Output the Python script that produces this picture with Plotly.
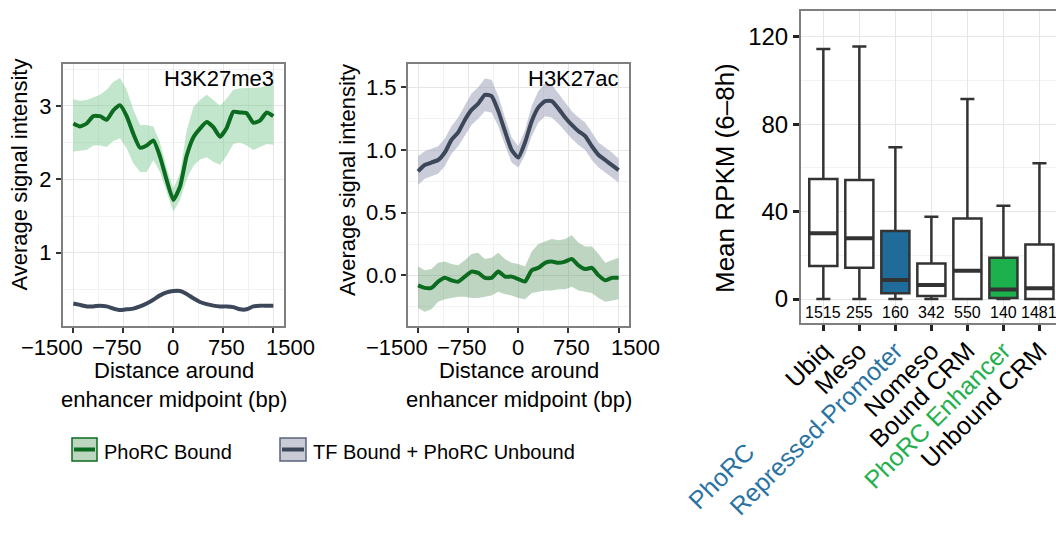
import plotly.graph_objects as go

W, H = 1056, 533
FONT = "Liberation Sans, Arial, Helvetica, sans-serif"

# ---------------- data ----------------
bp = [-1500, -1400, -1300, -1200, -1100, -1000, -900, -800, -700, -600, -500, -400, -300, -200, -100,
      0, 100, 200, 300, 400, 500, 600, 700, 800, 900, 1000, 1100, 1200, 1300, 1400, 1500]

# H3K27me3
me3_phorc = [2.76, 2.72, 2.76, 2.86, 2.86, 2.81, 2.94, 3.01, 2.86, 2.62, 2.43, 2.46, 2.53, 2.31, 1.99,
             1.72, 1.90, 2.32, 2.57, 2.69, 2.78, 2.71, 2.58, 2.70, 2.92, 2.91, 2.90, 2.77, 2.80, 2.91, 2.86]
me3_phorc_hi = [3.09, 3.07, 3.08, 3.12, 3.15, 3.22, 3.33, 3.38, 3.22, 2.95, 2.74, 2.74, 2.72, 2.50, 2.15,
                1.88, 2.08, 2.66, 2.98, 3.08, 3.15, 3.08, 3.00, 3.10, 3.22, 3.24, 3.24, 3.24, 3.25, 3.27, 3.28]
me3_phorc_lo = [2.38, 2.39, 2.40, 2.46, 2.46, 2.44, 2.52, 2.56, 2.42, 2.22, 2.10, 2.10, 2.26, 2.10, 1.82,
                1.56, 1.72, 2.00, 2.18, 2.27, 2.30, 2.24, 2.20, 2.32, 2.48, 2.50, 2.46, 2.40, 2.44, 2.48, 2.47]
me3_tf = [0.31, 0.29, 0.27, 0.27, 0.28, 0.27, 0.24, 0.22, 0.23, 0.24, 0.27, 0.31, 0.36, 0.42, 0.46,
          0.48, 0.48, 0.44, 0.38, 0.33, 0.30, 0.28, 0.27, 0.27, 0.26, 0.23, 0.23, 0.27, 0.28, 0.28, 0.28]
me3_tf_hi = [0.33, 0.31, 0.29, 0.29, 0.30, 0.29, 0.26, 0.24, 0.25, 0.26, 0.29, 0.33, 0.38, 0.44, 0.48,
             0.50, 0.50, 0.46, 0.40, 0.35, 0.32, 0.30, 0.29, 0.29, 0.28, 0.25, 0.25, 0.29, 0.30, 0.30, 0.30]
me3_tf_lo = [0.29, 0.27, 0.25, 0.25, 0.26, 0.25, 0.22, 0.20, 0.21, 0.22, 0.25, 0.29, 0.34, 0.40, 0.44,
             0.46, 0.46, 0.42, 0.36, 0.31, 0.28, 0.26, 0.25, 0.25, 0.24, 0.21, 0.21, 0.25, 0.26, 0.26, 0.26]

# H3K27ac
ac_phorc = [-0.08, -0.10, -0.10, -0.05, -0.02, -0.04, -0.05, -0.01, 0.03, 0.02, -0.02, -0.02, 0.03, -0.01, -0.01,
            -0.03, -0.05, 0.04, 0.06, 0.10, 0.11, 0.10, 0.11, 0.13, 0.08, 0.05, 0.06, 0.00, -0.04, -0.02, -0.02]
ac_phorc_hi = [0.07, 0.04, 0.05, 0.10, 0.11, 0.09, 0.08, 0.12, 0.17, 0.18, 0.13, 0.14, 0.18, 0.13, 0.10,
               0.09, 0.07, 0.19, 0.25, 0.27, 0.29, 0.28, 0.29, 0.32, 0.26, 0.23, 0.23, 0.17, 0.10, 0.12, 0.14]
ac_phorc_lo = [-0.26, -0.29, -0.27, -0.21, -0.19, -0.18, -0.17, -0.17, -0.18, -0.18, -0.17, -0.16, -0.13, -0.15, -0.16,
               -0.18, -0.19, -0.14, -0.13, -0.12, -0.12, -0.11, -0.11, -0.09, -0.12, -0.13, -0.14, -0.18, -0.21, -0.20, -0.19]
ac_tf = [0.83, 0.88, 0.90, 0.92, 0.98, 1.08, 1.14, 1.24, 1.32, 1.37, 1.44, 1.43, 1.31, 1.15, 1.00,
         0.94, 1.06, 1.23, 1.34, 1.39, 1.39, 1.33, 1.26, 1.20, 1.15, 1.11, 1.03, 0.96, 0.92, 0.88, 0.84]
ac_tf_hi = [0.95, 0.99, 1.01, 1.03, 1.09, 1.19, 1.26, 1.36, 1.45, 1.50, 1.57, 1.56, 1.43, 1.26, 1.10,
            1.03, 1.16, 1.35, 1.47, 1.53, 1.52, 1.45, 1.38, 1.31, 1.26, 1.22, 1.14, 1.06, 1.02, 0.98, 0.93]
ac_tf_lo = [0.72, 0.77, 0.79, 0.81, 0.87, 0.97, 1.03, 1.12, 1.20, 1.25, 1.31, 1.30, 1.19, 1.04, 0.90,
            0.86, 0.96, 1.11, 1.22, 1.27, 1.26, 1.21, 1.15, 1.09, 1.04, 1.00, 0.92, 0.86, 0.82, 0.78, 0.74]

# Boxplot
categories = ["Ubiq", "Meso", "PhoRC Repressed-Promoter", "Nomeso", "Bound CRM", "PhoRC Enhancer", "Unbound CRM"]
tick_labels = ["Ubiq", "Meso", "Repressed-Promoter", "Nomeso", "Bound CRM", "PhoRC Enhancer", "Unbound CRM"]
q1 = [15.1, 14.3, 2.6, 1.4, 0.0, 0.5, 0.0]
median = [30.1, 27.8, 8.7, 6.4, 13.0, 4.4, 4.9]
q3 = [54.9, 54.5, 31.1, 16.3, 36.9, 18.9, 25.0]
lowerfence = [0.0, 0.0, 0.0, 0.0, 0.0, 0.0, 0.0]
upperfence = [114.4, 115.5, 69.4, 37.7, 91.5, 42.7, 62.1]
counts = [1515, 255, 160, 342, 550, 140, 1481]

# x tick labels of the profile panels
xt_vals = [-1500, -750, 0, 750, 1500]
xt_text = ["\u22121500", "\u2212750", "0", "750", "1500"]

# ---------------- styles ----------------
GREEN = "#0b6b1f"
GREY = "#3c475a"
BAND_GREEN_1 = "rgba(120,200,140,0.45)"
BAND_GREEN_2 = "rgba(100,155,110,0.42)"
BAND_GREY = "rgba(150,155,180,0.5)"
BLUE_FILL = "#1f6c9a"
GREEN_FILL = "#1db14e"
BOX_FILLS = ["white", "white", BLUE_FILL, "white", "white", GREEN_FILL, "white"]
BLUE_TXT = "#2a72a2"
LABEL_COLORS = ["black", "black", BLUE_TXT, "black", "black", "#24b04e", "black"]
FRAME = "#7f7f7f"
GRID = "#e6e6e6"
GRID_MINOR = "#f2f2f2"
XT_SHIFT = [-21, -6, 0, 3, 17]   # labels nudged apart as in the original layout


def px(x):
    return x / W


def py(y):
    return 1 - y / H


fig = go.Figure()


def add_profile(xa, ya, y, lo, hi, color, band):
    fig.add_trace(go.Scatter(x=bp, y=lo, mode="lines", line=dict(width=0, color=band),
                             xaxis=xa, yaxis=ya, showlegend=False, hoverinfo="skip"))
    fig.add_trace(go.Scatter(x=bp, y=hi, mode="lines", line=dict(width=0, color=band), fill="tonexty",
                             fillcolor=band, xaxis=xa, yaxis=ya, showlegend=False, hoverinfo="skip"))
    fig.add_trace(go.Scatter(x=bp, y=y, mode="lines", line=dict(width=4, color=color, shape="spline", smoothing=0.5),
                             xaxis=xa, yaxis=ya, showlegend=False))


add_profile("x", "y", me3_phorc, me3_phorc_lo, me3_phorc_hi, GREEN, BAND_GREEN_1)
add_profile("x", "y", me3_tf, me3_tf_lo, me3_tf_hi, GREY, BAND_GREY)
add_profile("x2", "y2", ac_tf, ac_tf_lo, ac_tf_hi, GREY, BAND_GREY)
add_profile("x2", "y2", ac_phorc, ac_phorc_lo, ac_phorc_hi, GREEN, BAND_GREEN_2)

BOX_HALF = 0.39
for i, c in enumerate(categories):
    fig.add_trace(go.Box(x=[c], q1=[q1[i]], median=[median[i]], q3=[q3[i]],
                         lowerfence=[lowerfence[i]], upperfence=[upperfence[i]],
                         fillcolor=BOX_FILLS[i], line=dict(color="#333333", width=2.5),
                         width=BOX_HALF * 2, xaxis="x3", yaxis="y3", showlegend=False,
                         boxpoints=False))
    fig.add_shape(type="line", xref="x3", yref="y3", x0=i - BOX_HALF, x1=i + BOX_HALF,
                  y0=median[i], y1=median[i], line=dict(color="#333333", width=4))
    fig.add_annotation(x=c, y=-6.3, xref="x3", yref="y3", text=str(counts[i]), showarrow=False,
                       font=dict(size=16, color="black", family=FONT))

common_lin = dict(showline=True, linecolor=FRAME, linewidth=2, mirror=True, ticks="outside",
                  ticklen=5, tickwidth=2, tickcolor="#333333", showgrid=True, gridcolor=GRID,
                  gridwidth=1.2, zeroline=False, tickangle=0, automargin=False)
xfont = dict(size=22, color="black", family=FONT)
yfont = dict(size=22, color="black", family=FONT)

minor_x = dict(tickvals=[-1125, -375, 375, 1125], showgrid=True, gridcolor=GRID_MINOR, gridwidth=0.8, ticks="")

fig.update_layout(
    width=W, height=H, margin=dict(l=0, r=0, t=0, b=0, autoexpand=False),
    paper_bgcolor="white", plot_bgcolor="white", boxmode="overlay",
    font=dict(family=FONT, color="black"),
    xaxis=dict(domain=[px(63), px(284)], range=[-1655, 1660], anchor="y", tickmode="array",
               tickvals=xt_vals, showticklabels=False, minor=minor_x, **common_lin),
    yaxis=dict(domain=[py(326), py(64)], range=[0.003, 3.57], anchor="x", tickmode="array",
               tickvals=[1, 2, 3], ticktext=["1", "2", "3"], tickfont=yfont,
               minor=dict(tickvals=[0.5, 1.5, 2.5, 3.5], showgrid=True, gridcolor=GRID_MINOR,
                          gridwidth=0.8, ticks=""), **common_lin),
    xaxis2=dict(domain=[px(408), px(629)], range=[-1650, 1655], anchor="y2", tickmode="array",
                tickvals=xt_vals, showticklabels=False, minor=minor_x, **common_lin),
    yaxis2=dict(domain=[py(326), py(64)], range=[-0.404, 1.686], anchor="x2", tickmode="array",
                tickvals=[0, 0.5, 1.0, 1.5], ticktext=["0.0", "0.5", "1.0", "1.5"], tickfont=yfont,
                minor=dict(tickvals=[-0.25, 0.25, 0.75, 1.25], showgrid=True, gridcolor=GRID_MINOR,
                           gridwidth=0.8, ticks=""), **common_lin),
    xaxis3=dict(domain=[px(801), 1.0], range=[-0.62, 6.46], anchor="y3", type="category",
                categoryorder="array", categoryarray=categories, tickmode="array", tickvals=categories,
                ticktext=[f'<span style="color:{LABEL_COLORS[i]}">{t}</span>' for i, t in enumerate(tick_labels)],
                tickangle=-45, showline=True, linecolor=FRAME, linewidth=2, mirror=True,
                ticks="outside", ticklen=6, tickwidth=2.5, tickcolor="#222222", showgrid=True,
                gridcolor=GRID, gridwidth=1.2, zeroline=False, automargin=False, ticklabelstandoff=-5,
                tickfont=dict(size=25, color="black", family=FONT)),
    yaxis3=dict(domain=[py(323.3), py(11)], range=[-11.1, 131.8], anchor="x3", tickmode="array",
                tickvals=[0, 40, 80, 120], showline=True, linecolor=FRAME, linewidth=2, mirror=False,
                ticks="outside", ticklen=6, tickwidth=2.5, tickcolor="#222222", showgrid=True,
                gridcolor=GRID, gridwidth=1.2, zeroline=False, automargin=False,
                minor=dict(tickvals=[20, 60, 100], showgrid=True, gridcolor=GRID_MINOR, gridwidth=0.8, ticks=""),
                tickfont=dict(size=24, color="black", family=FONT)),
)

# x tick labels for the two profile panels, placed at their tick values
for xa in ["x", "x2"]:
    for v, t, s in zip(xt_vals, xt_text, XT_SHIFT):
        fig.add_annotation(x=v, xref=xa, y=py(347), yref="paper", text=t, showarrow=False,
                           xshift=s, xanchor="center", yanchor="middle", font=xfont)

ann_font = dict(size=22, color="black", family=FONT)
annots = [
    dict(x=px(19.5), y=py(175), text="Average signal intensity", textangle=-90, font=ann_font),
    dict(x=px(347), y=py(180), text="Average signal intensity", textangle=-90, font=ann_font),
    dict(x=px(173.5), y=py(385), text="Distance around<br>enhancer midpoint (bp)", font=ann_font),
    dict(x=px(518.5), y=py(385), text="Distance around<br>enhancer midpoint (bp)", font=ann_font),
    dict(x=px(276), y=py(79), text="H3K27me3", xanchor="right", font=ann_font),
    dict(x=px(621), y=py(79), text="H3K27ac", xanchor="right", font=ann_font),
    dict(x=px(725), y=py(178), text="Mean RPKM (6\u20138h)", textangle=-90,
         font=dict(size=26, color="black", family=FONT)),
    dict(x=px(721), y=py(476), text="PhoRC", textangle=-45,
         font=dict(size=25, color=BLUE_TXT, family=FONT)),
    dict(x=px(102), y=py(452), text="PhoRC Bound", xanchor="left", font=dict(size=20, color="black", family=FONT)),
    dict(x=px(311), y=py(452), text="TF Bound + PhoRC Unbound", xanchor="left",
         font=dict(size=20, color="black", family=FONT)),
]
for a in annots:
    a.setdefault("xanchor", "center")
    fig.add_annotation(xref="paper", yref="paper", showarrow=False, yanchor="middle", **a)

# custom legend keys
for (x0, x1, fill, edge, line) in [(72, 97, "#bdd6c0", GREEN, GREEN), (280, 306, "#c9cbd6", "#59637a", GREY)]:
    fig.add_shape(type="rect", xref="paper", yref="paper", x0=px(x0), x1=px(x1), y0=py(461), y1=py(438),
                  fillcolor=fill, line=dict(color=edge, width=1.5))
    fig.add_shape(type="line", xref="paper", yref="paper", x0=px(x0 + 2), x1=px(x1 - 2), y0=py(449.5),
                  y1=py(449.5), line=dict(color=line, width=4))

fig.write_html("out.html")
